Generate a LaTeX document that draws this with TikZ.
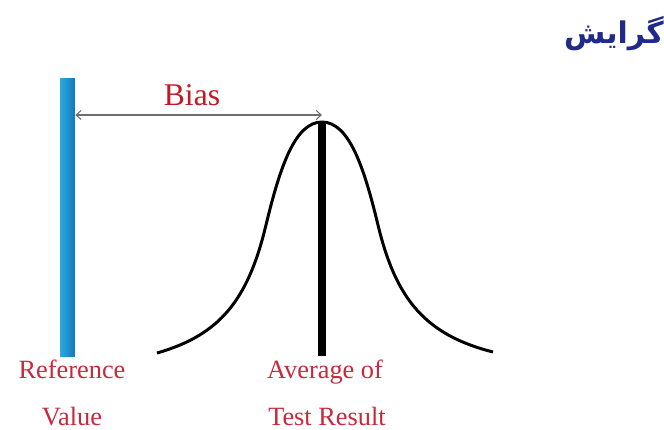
\documentclass[tikz,border=0pt]{standalone}
\usepackage{fontspec}
\setmainfont{Liberation Serif}
\newfontfamily\persianfont[Script=Arabic]{DejaVu Sans}
\TeXXeTstate=1
\usetikzlibrary{arrows.meta,positioning}
\definecolor{titleblue}{HTML}{1F2A8A}
\definecolor{biasred}{HTML}{C01A24}
\definecolor{lblred}{HTML}{C8283C}
\definecolor{barlight}{HTML}{2AAAE2}
\definecolor{bardark}{HTML}{1479B8}
\definecolor{arrgray}{HTML}{6E6E6E}
\tikzset{
  refbar/.style={draw=none,left color=barlight,right color=bardark,inner sep=0pt,
    minimum width=0.3cm,minimum height=5.58cm},
  biasarr/.style={{Straight Barb[length=1mm,width=1.8mm]}-{Straight Barb[length=1mm,width=1.8mm]},arrgray,line width=0.6pt},
  curve/.style={black,line width=1.7pt},
  mean/.style={black,line width=4pt},
  lbl/.style={lblred,anchor=base,font=\fontsize{15}{18}\selectfont},
  biaslbl/.style={biasred,anchor=base,font=\fontsize{18}{22}\selectfont},
  title/.style={titleblue,font=\persianfont\bfseries\fontsize{17}{20}\selectfont},
}
\begin{document}
\begin{tikzpicture}[x=0.02cm,y=-0.02cm]
  \useasboundingbox (0,0) rectangle (664,430);
  \node[title] (head) at (614,34) {\beginR گرایش\endR};
  \node[refbar] (bar) at (67.5,217.5) {};
  \draw[curve] (157,353) .. controls (220,335) and (248,300) .. (266,225)
    .. controls (280,167) and (295,122) .. (322,122)
    .. controls (349,122) and (364,167) .. (378,225)
    .. controls (396,300) and (426,335) .. (493,352);
  \coordinate (top) at (322,122);
  \coordinate (foot) at (322,356);
  \draw[mean] (top) -- (foot);
  \coordinate (biasend) at (322,115);
  \draw[biasarr] (bar.east |- biasend) -- (biasend);
  \node[biaslbl] (bias) at (192,105) {Bias};
  \node[lbl] (ref1) at (72,378) {Reference};
  \node[lbl] (ref2) at (72,425) {Value};
  \node[lbl] (avg1) at (325,378) {Average of};
  \node[lbl] (avg2) at (327,425) {Test Result};
\end{tikzpicture}
\end{document}
